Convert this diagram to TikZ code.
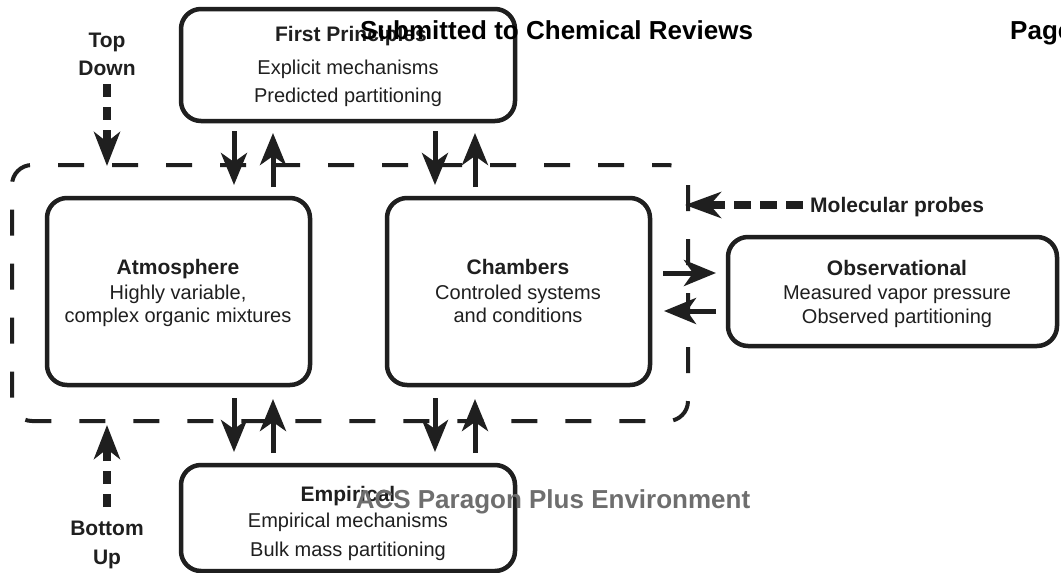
\documentclass[tikz,border=0pt]{standalone}
\usepackage{fontspec}
\setmainfont{Liberation Sans}
\usetikzlibrary{arrows.meta}
\tikzset{
  solidbox/.style={draw=black!88, line width=4.5pt, rounded corners=20pt, inner sep=0pt},
  dashbox/.style={draw=black!88, line width=4pt, rounded corners=20pt, dash pattern=on 26pt off 28pt, dash phase=10pt, inner sep=0pt},
  arr/.style={draw=black!88, line width=5pt, -{Stealth[length=32pt,width=26pt,inset=9pt]}},
  darr/.style={draw=black!88, line width=8pt, dash pattern=on 13pt off 10pt, -{Stealth[length=34pt,width=26pt,inset=10pt]}},
  darrh/.style={draw=black!88, line width=8pt, dash pattern=on 17pt off 9pt, -{Stealth[length=36pt,width=26pt,inset=11pt]}},
  ttl/.style={font=\fontsize{21pt}{21pt}\selectfont\bfseries, text=black!88, anchor=base, inner sep=0pt},
  txt/.style={font=\fontsize{20pt}{20pt}\selectfont, text=black!88, anchor=base, inner sep=0pt},
  hdr/.style={font=\fontsize{26pt}{26pt}\selectfont\bfseries, anchor=base, inner sep=0pt}
}
\begin{document}
\begin{tikzpicture}[x=1pt,y=-1pt]
\clip (0,0) rectangle (1061,573);
\fill[white] (0,0) rectangle (1061,573);
% dashed frame
\node[dashbox, minimum width=676pt, minimum height=256pt] (frame) at (350,293) {};
% boxes
\node[solidbox, minimum width=334pt, minimum height=112pt] (fp) at (348,65) {};
\node[solidbox, minimum width=263pt, minimum height=187pt] (atm) at (178.5,291.5) {};
\node[solidbox, minimum width=263pt, minimum height=187pt] (cham) at (518.5,291.5) {};
\node[solidbox, minimum width=329pt, minimum height=109pt] (obs) at (892.5,291.5) {};
\node[solidbox, minimum width=334pt, minimum height=106pt] (emp) at (348,518) {};
% texts
\node[ttl] (fp1) at (351,41) {First Principles};
\node[txt] (fp2) at (348,74) {Explicit mechanisms};
\node[txt] (fp3) at (348,102) {Predicted partitioning};
\node[ttl] (atm1) at (178,274) {Atmosphere};
\node[txt] (atm2) at (178,299) {Highly variable,};
\node[txt] (atm3) at (178,322) {complex organic mixtures};
\node[ttl] (cham1) at (518,274) {Chambers};
\node[txt] (cham2) at (518,299) {Controled systems};
\node[txt] (cham3) at (518,322) {and conditions};
\node[ttl] (obs1) at (897,275) {Observational};
\node[txt] (obs2) at (897,299) {Measured vapor pressure};
\node[txt] (obs3) at (897,323) {Observed partitioning};
\node[ttl] (emp1) at (348,501) {Empirical};
\node[txt] (emp2) at (348,527) {Empirical mechanisms};
\node[txt] (emp3) at (348,556) {Bulk mass partitioning};
\node[ttl] (td1) at (107,47) {Top};
\node[ttl] (td2) at (107,75) {Down};
\node[ttl] (bu1) at (107,535) {Bottom};
\node[ttl] (bu2) at (107,564) {Up};
\node[ttl, anchor=base west] (mp) at (810,212) {Molecular probes};
% connectors: top pairs
\coordinate (t1a) at (234,131); \coordinate (t1b) at (234,185);
\coordinate (t2a) at (273,187); \coordinate (t2b) at (273,133);
\coordinate (t3a) at (435,131); \coordinate (t3b) at (435,185);
\coordinate (t4a) at (475,187); \coordinate (t4b) at (475,133);
\draw[arr] (t1a) -- (t1b);
\draw[arr] (t2a) -- (t2b);
\draw[arr] (t3a) -- (t3b);
\draw[arr] (t4a) -- (t4b);
% bottom pairs
\coordinate (b1a) at (234,398); \coordinate (b1b) at (234,452);
\coordinate (b2a) at (273,453); \coordinate (b2b) at (273,399);
\coordinate (b3a) at (435,398); \coordinate (b3b) at (435,452);
\coordinate (b4a) at (475,453); \coordinate (b4b) at (475,399);
\draw[arr] (b1a) -- (b1b);
\draw[arr] (b2a) -- (b2b);
\draw[arr] (b3a) -- (b3b);
\draw[arr] (b4a) -- (b4b);
% chambers <-> observational
\coordinate (h1a) at (663,273); \coordinate (h1b) at (716,273);
\coordinate (h2a) at (716,311); \coordinate (h2b) at (664,311);
\draw[arr] (h1a) -- (h1b);
\draw[arr] (h2a) -- (h2b);
% dashed arrows
\coordinate (tdA) at (107,84); \coordinate (tdB) at (107,166);
\draw[darr] (tdA) -- (tdB);
\coordinate (buA) at (107,507); \coordinate (buB) at (107,425);
\draw[darr] (buA) -- (buB);
\coordinate (mpA) at (803,205); \coordinate (mpB) at (685,205);
\draw[darrh] (mpA) -- (mpB);
% page header / footer
\node[hdr, text=black] (head) at (556.5,39) {Submitted to Chemical Reviews};
\node[hdr, text=black, anchor=base west] (page) at (1010,39) {Page};
\node[hdr, text=black!57] (foot) at (553,508) {ACS Paragon Plus Environment};
\end{tikzpicture}
\end{document}
